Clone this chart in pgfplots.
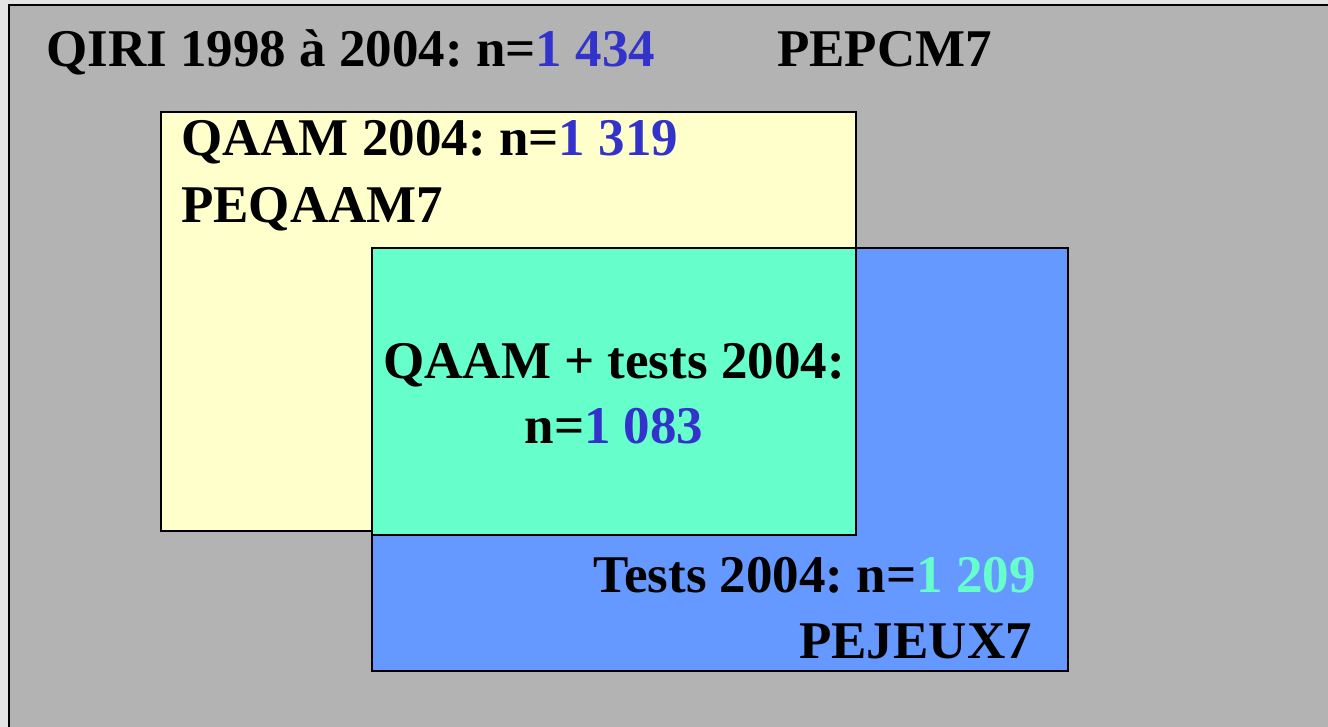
\documentclass[border=0pt]{standalone}
\usepackage{fontspec}
\setmainfont{Liberation Serif}
\usepackage{pgfplots}
\pgfplotsset{compat=1.18}
\definecolor{bgl}{HTML}{E3E3E3}
\definecolor{frame}{HTML}{B3B3B3}
\definecolor{yel}{HTML}{FFFFCC}
\definecolor{blu}{HTML}{6699FF}
\definecolor{grn}{HTML}{66FFCC}
\definecolor{num}{HTML}{3333CC}
\definecolor{numg}{HTML}{66FFCC}
\frenchspacing
\begin{document}
\begin{tikzpicture}
\begin{axis}[width=1328bp,height=727bp,scale only axis,
  xmin=0,xmax=1328,ymin=0,ymax=727,y dir=reverse,hide axis,
  every axis plot/.append style={line join=miter},
  nodes={font=\fontsize{53bp}{60bp}\selectfont\bfseries\frenchspacing,inner sep=0pt}]
\addplot[fill=bgl,draw=none] coordinates {(-5,-5)(1335,-5)(1335,735)(-5,735)} -- cycle;
\addplot[fill=frame,draw=black,line width=2bp] coordinates {(9,5)(1345,5)(1345,745)(9,745)} -- cycle;
\addplot[fill=yel,draw=black,line width=1.5bp] coordinates {(161,112)(856,112)(856,531)(161,531)} -- cycle;
\addplot[fill=blu,draw=black,line width=1.5bp] coordinates {(372,248)(1068,248)(1068,671)(372,671)} -- cycle;
\addplot[fill=grn,draw=black,line width=1.5bp] coordinates {(372,248)(856,248)(856,535)(372,535)} -- cycle;
\node[anchor=base west] at (axis cs:46,67) {QIRI 1998 à 2004: n=\textcolor{num}{1 434}};
\node[anchor=base west] at (axis cs:777,67) {PEPCM7};
\node[anchor=base west] at (axis cs:181,156) {QAAM 2004: n=\textcolor{num}{1 319}};
\node[anchor=base west] at (axis cs:181,222) {PEQAAM7};
\node[anchor=base] at (axis cs:614,378) {QAAM + tests 2004:};
\node[anchor=base] at (axis cs:614,443) {n=\textcolor{num}{1 083}};
\node[anchor=base east] at (axis cs:1036,592) {Tests 2004: n=\textcolor{numg}{1 209}};
\node[anchor=base east] at (axis cs:1032,658) {PEJEUX7};
\end{axis}
\end{tikzpicture}
\end{document}
